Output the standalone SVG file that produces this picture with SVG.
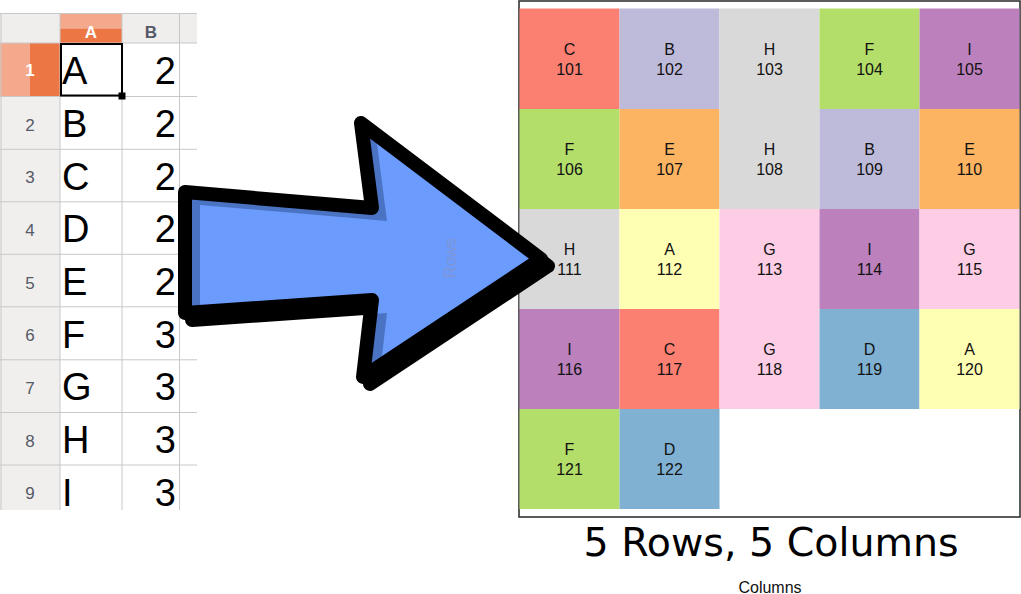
<svg xmlns="http://www.w3.org/2000/svg" width="1021" height="594" viewBox="0 0 1021 594">
<defs>
<style>
.grid{stroke:#c8c8c8;stroke-width:1;fill:none}
.rh{fill:#f0efed}
.rn{font-family:"Liberation Sans",Arial,sans-serif;font-size:17px;fill:#555a66;text-anchor:middle}
.big{font-family:"Liberation Sans",Arial,sans-serif;font-size:38px;fill:#000}
.num{text-anchor:end}
.cl{font-family:"Liberation Sans",Arial,sans-serif;font-size:16px;fill:#111;text-anchor:middle}
.A{fill:#ffffb3}.B{fill:#bebada}.C{fill:#fb8072}.D{fill:#80b1d3}.E{fill:#fdb462}.F{fill:#b3de69}.G{fill:#fccde5}.H{fill:#d9d9d9}.I{fill:#bc80bd}
</style>
<clipPath id="arrowClip"><polygon points="185,192 372,208 361,123 541,259 363,377 372,300 185,313"/></clipPath>
</defs>
<rect width="1021" height="594" fill="#fff"/>

<g id="spreadsheet">
<rect x="0" y="14" width="197" height="29" fill="#efeeec"/>
<rect x="60" y="14" width="62" height="14.5" fill="#f5a98c"/>
<rect x="60" y="28.5" width="62" height="14.5" fill="#ed7645"/>
<rect class="rh" x="0" y="43" width="60" height="467"/>
<rect x="0" y="43" width="30" height="53.5" fill="#f5a98c"/>
<rect x="30" y="43" width="30" height="53.5" fill="#ed7645"/>
<g class="grid">
<line x1="0" y1="13.5" x2="197" y2="13.5"/>
<line x1="0" y1="43" x2="197" y2="43"/>
<line x1="0" y1="96.5" x2="197" y2="96.5"/>
<line x1="0" y1="149.3" x2="197" y2="149.3"/>
<line x1="0" y1="201.8" x2="197" y2="201.8"/>
<line x1="0" y1="254.3" x2="197" y2="254.3"/>
<line x1="0" y1="306.8" x2="197" y2="306.8"/>
<line x1="0" y1="359.8" x2="197" y2="359.8"/>
<line x1="0" y1="412.5" x2="197" y2="412.5"/>
<line x1="0" y1="465" x2="197" y2="465"/>
<line x1="1" y1="14" x2="1" y2="510"/>
<line x1="60" y1="14" x2="60" y2="510"/>
<line x1="122" y1="14" x2="122" y2="510"/>
<line x1="179.5" y1="14" x2="179.5" y2="510"/>
</g>
<text x="91" y="38" font-family="Liberation Sans,Arial,sans-serif" font-size="17" font-weight="bold" fill="#fff" text-anchor="middle">A</text>
<text x="151" y="38" font-family="Liberation Sans,Arial,sans-serif" font-size="17" font-weight="bold" fill="#555a66" text-anchor="middle">B</text>
<text class="rn" x="30" y="76" style="fill:#fff;font-weight:bold">1</text>
<text class="rn" x="30" y="131">2</text>
<text class="rn" x="30" y="183">3</text>
<text class="rn" x="30" y="236">4</text>
<text class="rn" x="30" y="289">5</text>
<text class="rn" x="30" y="341">6</text>
<text class="rn" x="30" y="394">7</text>
<text class="rn" x="30" y="447">8</text>
<text class="rn" x="30" y="499">9</text>
<text class="big" x="62" y="84">A</text><text class="big num" x="176" y="84">2</text>
<text class="big" x="62" y="137">B</text><text class="big num" x="176" y="137">2</text>
<text class="big" x="62" y="190">C</text><text class="big num" x="176" y="190">2</text>
<text class="big" x="62" y="242">D</text><text class="big num" x="176" y="242">2</text>
<text class="big" x="62" y="295">E</text><text class="big num" x="176" y="295">2</text>
<text class="big" x="62" y="348">F</text><text class="big num" x="176" y="348">3</text>
<text class="big" x="62" y="400">G</text><text class="big num" x="176" y="400">3</text>
<text class="big" x="62" y="453">H</text><text class="big num" x="176" y="453">3</text>
<text class="big" x="62" y="506">I</text><text class="big num" x="176" y="506">3</text>
<rect x="61" y="44" width="61" height="51.5" fill="none" stroke="#000" stroke-width="2"/>
<rect x="118.5" y="92.5" width="7" height="7" fill="#000"/>
</g>

<g id="plot">
<rect x="519" y="1" width="501" height="516" fill="#fff" stroke="#333" stroke-width="1.6"/>
<g id="c101"><rect class="C" x="519.5" y="8.5" width="100" height="100.5"/><text class="cl" x="569.5" y="55">C</text><text class="cl" x="569.5" y="75">101</text></g>
<g id="c102"><rect class="B" x="619.5" y="8.5" width="100" height="100.5"/><text class="cl" x="669.5" y="55">B</text><text class="cl" x="669.5" y="75">102</text></g>
<g id="c103"><rect class="H" x="719.5" y="8.5" width="100" height="100.5"/><text class="cl" x="769.5" y="55">H</text><text class="cl" x="769.5" y="75">103</text></g>
<g id="c104"><rect class="F" x="819.5" y="8.5" width="100" height="100.5"/><text class="cl" x="869.5" y="55">F</text><text class="cl" x="869.5" y="75">104</text></g>
<g id="c105"><rect class="I" x="919.5" y="8.5" width="100" height="100.5"/><text class="cl" x="969.5" y="55">I</text><text class="cl" x="969.5" y="75">105</text></g>
<g id="c106"><rect class="F" x="519.5" y="109" width="100" height="100"/><text class="cl" x="569.5" y="155">F</text><text class="cl" x="569.5" y="175">106</text></g>
<g id="c107"><rect class="E" x="619.5" y="109" width="100" height="100"/><text class="cl" x="669.5" y="155">E</text><text class="cl" x="669.5" y="175">107</text></g>
<g id="c108"><rect class="H" x="719.5" y="109" width="100" height="100"/><text class="cl" x="769.5" y="155">H</text><text class="cl" x="769.5" y="175">108</text></g>
<g id="c109"><rect class="B" x="819.5" y="109" width="100" height="100"/><text class="cl" x="869.5" y="155">B</text><text class="cl" x="869.5" y="175">109</text></g>
<g id="c110"><rect class="E" x="919.5" y="109" width="100" height="100"/><text class="cl" x="969.5" y="155">E</text><text class="cl" x="969.5" y="175">110</text></g>
<g id="c111"><rect class="H" x="519.5" y="209" width="100" height="100"/><text class="cl" x="569.5" y="255">H</text><text class="cl" x="569.5" y="275">111</text></g>
<g id="c112"><rect class="A" x="619.5" y="209" width="100" height="100"/><text class="cl" x="669.5" y="255">A</text><text class="cl" x="669.5" y="275">112</text></g>
<g id="c113"><rect class="G" x="719.5" y="209" width="100" height="100"/><text class="cl" x="769.5" y="255">G</text><text class="cl" x="769.5" y="275">113</text></g>
<g id="c114"><rect class="I" x="819.5" y="209" width="100" height="100"/><text class="cl" x="869.5" y="255">I</text><text class="cl" x="869.5" y="275">114</text></g>
<g id="c115"><rect class="G" x="919.5" y="209" width="100" height="100"/><text class="cl" x="969.5" y="255">G</text><text class="cl" x="969.5" y="275">115</text></g>
<g id="c116"><rect class="I" x="519.5" y="309" width="100" height="100"/><text class="cl" x="569.5" y="355">I</text><text class="cl" x="569.5" y="375">116</text></g>
<g id="c117"><rect class="C" x="619.5" y="309" width="100" height="100"/><text class="cl" x="669.5" y="355">C</text><text class="cl" x="669.5" y="375">117</text></g>
<g id="c118"><rect class="G" x="719.5" y="309" width="100" height="100"/><text class="cl" x="769.5" y="355">G</text><text class="cl" x="769.5" y="375">118</text></g>
<g id="c119"><rect class="D" x="819.5" y="309" width="100" height="100"/><text class="cl" x="869.5" y="355">D</text><text class="cl" x="869.5" y="375">119</text></g>
<g id="c120"><rect class="A" x="919.5" y="309" width="100" height="100"/><text class="cl" x="969.5" y="355">A</text><text class="cl" x="969.5" y="375">120</text></g>
<g id="c121"><rect class="F" x="519.5" y="409" width="100" height="100"/><text class="cl" x="569.5" y="455">F</text><text class="cl" x="569.5" y="475">121</text></g>
<g id="c122"><rect class="D" x="619.5" y="409" width="100" height="100"/><text class="cl" x="669.5" y="455">D</text><text class="cl" x="669.5" y="475">122</text></g>
<text id="title" x="771" y="556" font-family="DejaVu Sans,sans-serif" font-size="39.5" fill="#000" text-anchor="middle">5 Rows, 5 Columns</text>
<text id="xlab" x="770" y="592.5" font-family="Liberation Sans,Arial,sans-serif" font-size="16" fill="#111" text-anchor="middle">Columns</text>
</g>

<g id="connectors">
<polygon points="185,192 372,208 361,123 541,259 363,377 372,300 185,313" transform="translate(7,7)" fill="#000" stroke="#000" stroke-width="14" stroke-linejoin="round"/>
<polygon points="185,192 372,208 361,123 541,259 363,377 372,300 185,313" fill="#4b73c4"/>
<g clip-path="url(#arrowClip)"><polygon points="185,192 372,208 361,123 541,259 363,377 372,300 185,313" transform="translate(15,13)" fill="#6b9bfd"/></g>
<polygon points="185,192 372,208 361,123 541,259 363,377 372,300 185,313" fill="none" stroke="#000" stroke-width="14" stroke-linejoin="round"/>
</g>
<text id="ylab" x="0" y="0" transform="translate(456,258) rotate(-90)" font-family="Liberation Sans,Arial,sans-serif" font-size="16" fill="#7f96d6" text-anchor="middle">Rows</text>
</svg>
